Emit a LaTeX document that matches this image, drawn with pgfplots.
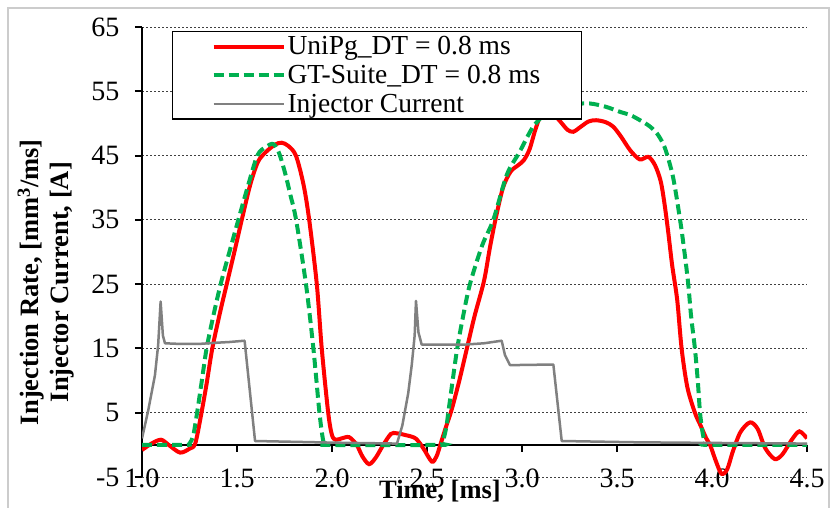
\documentclass[border=0pt]{standalone}
\usepackage{fontspec}
\setmainfont{Liberation Serif}
\usepackage{pgfplots}
\pgfplotsset{compat=1.18}
\definecolor{xred}{HTML}{FF0000}
\definecolor{xgreen}{HTML}{00B050}
\definecolor{xgray}{HTML}{808080}
\newcommand\legfont{\fontsize{27.5pt}{30pt}\selectfont}
\newcommand\tickfont{\fontsize{28pt}{30pt}\selectfont}
\newcommand\labfont{\fontsize{26.5pt}{30pt}\selectfont\bfseries}
\begin{document}
\begin{tikzpicture}
\useasboundingbox (0pt,0pt) rectangle (837pt,-508pt);
\begin{axis}[
  at={(142pt,-477pt)}, anchor=south west,
  width=665pt, height=450pt, scale only axis,
  xmin=1, xmax=4.5, ymin=-5, ymax=65,
  axis x line=middle, axis y line=left,
  axis line style={-, line width=2.2pt, black},
  every inner x axis line/.append style={-},
  every outer y axis line/.append style={-},
  hide obscured x ticks=false,
  xtick={1,1.5,2,2.5,3,3.5,4,4.5}, ytick={-5,5,15,25,35,45,55,65},
  tick align=outside, major tick length=7pt,
  tick style={line width=2pt, black},
  ymajorgrids, xmajorgrids=false,
  major grid style={dash pattern=on 2pt off 2pt, black!75, line width=0.9pt},
  /pgf/number format/assume math mode=true,
  xticklabel style={font=\tickfont, anchor=center, yshift=-27pt, /pgf/number format/.cd, fixed, fixed zerofill, precision=1},
  yticklabel style={font=\tickfont, anchor=east, xshift=-12pt},
  xlabel={Time, [ms]},
  xlabel style={font=\labfont, at={(axis description cs:0.448,0)}, anchor=base, yshift=-21pt},
  ylabel={Injection Rate, [mm\textsuperscript{3}/ms]\\Injector Current, [A]},
  ylabel style={font=\labfont, align=center, at={(axis description cs:-0.1444,0.433)}, anchor=center},
  legend style={at={(axis description cs:0.045,0.991)}, anchor=north west, draw=black, line width=1.2pt, fill=white, font=\legfont, inner xsep=39pt, inner ysep=3pt, row sep=5pt},
  legend cell align=left,
  legend image code/.code={\draw[#1, line cap=butt] (0pt,0pt) -- (70pt,0pt);},
]
\addplot[xred, line width=4pt, smooth, tension=0.5] coordinates {
(1.00,-0.8) (1.05,0.2) (1.10,0.8) (1.14,0.0) (1.20,-1.2) (1.25,-0.6) (1.28,0.2)
(1.31,4.5) (1.34,9.5) (1.37,15.0) (1.41,20.5) (1.45,25.5) (1.49,30.5) (1.525,35.0)
(1.57,40.5) (1.61,44.0) (1.65,45.5) (1.70,46.7) (1.735,47.0) (1.77,46.5) (1.81,45.0)
(1.85,40.5) (1.88,35.0) (1.92,25.0) (1.946,15.0) (1.98,5.0) (2.00,1.5) (2.02,0.8)
(2.05,1.0) (2.09,1.2) (2.13,0.0) (2.16,-1.8) (2.195,-3.0) (2.23,-2.0) (2.27,0.0)
(2.31,1.7) (2.34,1.8) (2.39,1.5) (2.44,1.0) (2.48,-0.5) (2.525,-2.6) (2.55,-1.8)
(2.57,0.0) (2.60,2.8) (2.63,5.5) (2.67,10.0) (2.71,15.0) (2.75,20.0) (2.80,25.5)
(2.83,30.5) (2.86,35.0) (2.90,40.0) (2.94,42.5) (2.98,43.5) (3.01,44.3) (3.04,46.0)
(3.07,49.0) (3.10,51.3) (3.14,51.8) (3.18,51.0) (3.21,50.0) (3.24,49.0) (3.27,48.7)
(3.31,49.5) (3.35,50.3) (3.39,50.5) (3.44,50.2) (3.48,49.5) (3.52,48.0) (3.57,45.8)
(3.62,44.4) (3.665,44.8) (3.70,43.5) (3.73,41.0) (3.75,37.5) (3.77,33.0) (3.79,28.0)
(3.817,22.5) (3.84,15.0) (3.87,9.0) (3.91,5.0) (3.94,3.0) (3.97,1.0) (3.99,0.0)
(4.02,-2.5) (4.05,-4.5) (4.08,-3.8) (4.11,-1.0) (4.15,2.0) (4.20,3.5) (4.24,2.5)
(4.28,-0.5) (4.33,-2.2) (4.37,-1.5) (4.42,0.8) (4.46,2.1) (4.50,1.0)
};
\addlegendentry{UniPg\_DT = 0.8 ms}
\addplot[xgreen, line width=4pt, dash pattern=on 10pt off 5pt, smooth, tension=0.5] coordinates {
(1.00,0) (1.23,0) (1.25,0.2) (1.27,1.5) (1.29,5.0) (1.315,10.0) (1.34,15.0) (1.375,20.0)
(1.414,25.0) (1.46,30.0) (1.507,35.0) (1.555,40.0) (1.607,45.0) (1.65,46.3) (1.69,46.8)
(1.72,45.5) (1.753,42.3) (1.78,39.0) (1.811,35.0) (1.863,25.0) (1.902,15.0) (1.934,5.0)
(1.955,0.5) (1.975,0) (2.56,0) (2.58,0.3) (2.60,2.5) (2.612,5.0) (2.635,10.0) (2.659,15.0)
(2.69,20.0) (2.726,25.0) (2.79,31.0) (2.849,35.0) (2.92,42.0) (2.986,45.5) (3.059,49.5)
(3.13,51.6) (3.2,52.5) (3.28,53.0) (3.358,53.1) (3.44,52.6) (3.516,51.8) (3.57,51.3)
(3.621,50.5) (3.67,49.6) (3.709,48.5) (3.74,47.0) (3.761,45.4) (3.796,41.5) (3.832,35.0)
(3.855,30.0) (3.875,25.0) (3.89,20.0) (3.91,15.0) (3.925,10.0) (3.937,5.0) (3.95,2.0)
(3.963,0.3) (3.98,0) (4.5,0)
};
\addlegendentry{GT-Suite\_DT = 0.8 ms}
\addplot[xgray, line width=2.5pt, line join=round] coordinates {
(1.00,1.0) (1.033,5.4) (1.068,10.8) (1.085,15.5) (1.098,22.3) (1.11,17.0) (1.121,15.8)
(1.20,15.7) (1.30,15.7) (1.40,15.9) (1.46,16.0) (1.54,16.2) (1.595,0.6) (2.0,0.35)
(2.342,0.2) (2.37,3.0) (2.401,8.0) (2.42,12.5) (2.435,17.0) (2.442,22.4) (2.455,17.5)
(2.472,15.6) (2.60,15.6) (2.70,15.6) (2.80,15.8) (2.893,16.2) (2.91,14.0) (2.937,12.4)
(3.165,12.5) (3.209,0.6) (3.60,0.4) (4.0,0.3) (4.5,0.2)
};
\addlegendentry{Injector Current}
\end{axis}
\draw[black!20, line width=1.5pt] (8pt,-508pt) -- (8pt,-8pt) -- (829pt,-8pt) -- (829pt,-508pt);
\end{tikzpicture}
\end{document}
